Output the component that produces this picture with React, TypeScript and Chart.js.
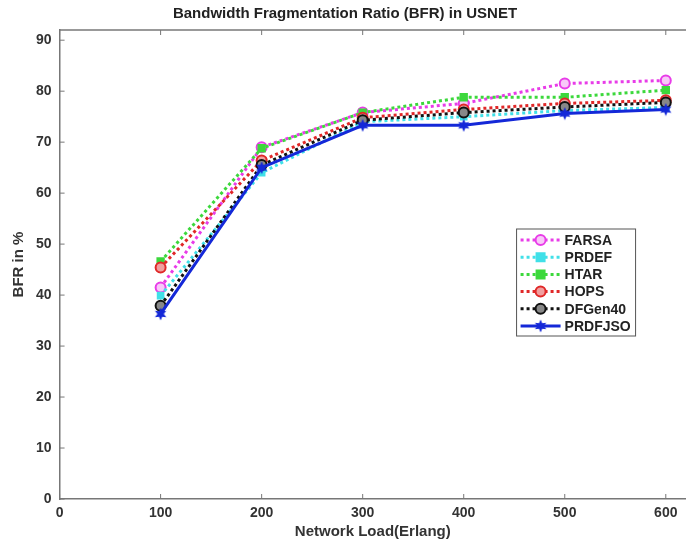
import React, { useEffect, useRef } from "react";
import { Chart, registerables } from "chart.js";

Chart.register(...registerables);

const loads = [100, 200, 300, 400, 500, 600];
const farsa = [41.5, 69.0, 75.8, 77.6, 81.5, 82.1];
const prdef = [39.9, 64.0, 74.0, 75.0, 76.2, 76.8];
const htar = [46.6, 68.8, 75.8, 78.8, 78.8, 80.2];
const hops = [45.4, 66.4, 74.8, 76.4, 77.6, 78.2];
const dfgen40 = [37.9, 65.5, 74.3, 75.8, 76.9, 77.8];
const prdfjso = [36.3, 65.0, 73.3, 73.3, 75.6, 76.4];
const seriesNames = ["FARSA", "PRDEF", "HTAR", "HOPS", "DFGen40", "PRDFJSO"];
const xTicks = [0, 100, 200, 300, 400, 500, 600];
const yTicks = [0, 10, 20, 30, 40, 50, 60, 70, 80, 90];

function makeStar(color: string, size: number) {
  const c = document.createElement("canvas");
  c.width = size;
  c.height = size;
  const g = c.getContext("2d")!;
  const cx = size / 2, cy = size / 2;
  const ro = size / 2 - 0.5, ri = ro * 0.5;
  g.beginPath();
  for (let i = 0; i < 12; i++) {
    const r = i % 2 === 0 ? ro : ri;
    const a = -Math.PI / 2 + (i * Math.PI) / 6;
    const px = cx + r * Math.cos(a), py = cy + r * Math.sin(a);
    if (i === 0) g.moveTo(px, py); else g.lineTo(px, py);
  }
  g.closePath();
  g.fillStyle = color;
  g.fill();
  return c;
}

export default function App() {
  const ref = useRef<HTMLCanvasElement>(null);
  useEffect(() => {
    document.body.style.margin = "0";
    const star = makeStar("#1428d8", 14);
    const styles = [
      { color: "#e83ce8", dash: [3, 3], point: "circle", r: 5, bg: "#f8c8f8" },
      { color: "#40e0e8", dash: [3, 3], point: "rect", r: 4, bg: "#40e0e8" },
      { color: "#3cd83c", dash: [3, 3], point: "rect", r: 4.5, bg: "#3cd83c" },
      { color: "#e02828", dash: [3, 3], point: "circle", r: 5, bg: "#f0a0a0" },
      { color: "#111111", dash: [3, 3], point: "circle", r: 5, bg: "#888888" },
      { color: "#1428d8", dash: [], point: star as any, r: 7, bg: "#1428d8" },
    ];
    const values = [farsa, prdef, htar, hops, dfgen40, prdfjso];
    const datasets = values.map((v, i) => ({
      label: seriesNames[i],
      data: v.map((y, j) => ({ x: loads[j], y })),
      borderColor: styles[i].color,
      backgroundColor: styles[i].bg,
      borderDash: styles[i].dash,
      borderWidth: 3,
      pointStyle: styles[i].point,
      pointRadius: styles[i].r,
      pointBorderWidth: 2,
      pointBorderColor: styles[i].color,
      pointBackgroundColor: styles[i].bg,
      tension: 0,
      order: values.length - i,
    }));

    const frame = {
      id: "frame",
      afterDraw(chart: any) {
        const { ctx, chartArea, scales } = chart;
        ctx.save();
        ctx.strokeStyle = "#777";
        ctx.lineWidth = 1.5;
        ctx.beginPath();
        ctx.moveTo(chartArea.left, chartArea.top);
        ctx.lineTo(chart.width, chartArea.top);
        ctx.stroke();
        ctx.lineWidth = 1;
        ctx.beginPath();
        xTicks.forEach((t) => {
          const x = scales.x.getPixelForValue(t);
          ctx.moveTo(x, chartArea.bottom);
          ctx.lineTo(x, chartArea.bottom - 5);
          ctx.moveTo(x, chartArea.top);
          ctx.lineTo(x, chartArea.top + 5);
        });
        yTicks.forEach((t) => {
          const y = scales.y.getPixelForValue(t);
          ctx.moveTo(chartArea.left, y);
          ctx.lineTo(chartArea.left + 5, y);
        });
        ctx.stroke();

        // legend box
        const bx = chartArea.left + 457, by = chartArea.top + 199;
        const bw = 119, bh = 107;
        ctx.fillStyle = "#fff";
        ctx.fillRect(bx, by, bw, bh);
        ctx.strokeStyle = "#555";
        ctx.lineWidth = 1;
        ctx.strokeRect(bx, by, bw, bh);
        ctx.font = "bold 14px 'Liberation Sans', Arial, sans-serif";
        ctx.textBaseline = "middle";
        chart.data.datasets.forEach((ds: any, i: number) => {
          const y = by + 11 + i * 17.2;
          ctx.save();
          ctx.strokeStyle = ds.borderColor;
          ctx.lineWidth = 3;
          ctx.setLineDash(ds.borderDash);
          ctx.beginPath();
          ctx.moveTo(bx + 4, y);
          ctx.lineTo(bx + 44, y);
          ctx.stroke();
          ctx.restore();
          const ps = ds.pointStyle;
          if (typeof ps === "string") {
            ctx.save();
            ctx.strokeStyle = ds.pointBorderColor;
            ctx.fillStyle = ds.pointBackgroundColor;
            ctx.lineWidth = 2;
            ctx.beginPath();
            if (ps === "circle") ctx.arc(bx + 24, y, 5, 0, Math.PI * 2);
            else ctx.rect(bx + 20, y - 4, 8, 8);
            ctx.fill();
            ctx.stroke();
            ctx.restore();
          } else {
            ctx.drawImage(ps, bx + 24 - 7, y - 7);
          }
          ctx.fillStyle = "#222";
          ctx.textAlign = "left";
          ctx.fillText(ds.label, bx + 48, y + 1);
        });
        ctx.restore();
      },
    };

    const font = { family: "'Liberation Sans', Arial, sans-serif", weight: "bold" as const };
    const chart = new Chart(ref.current!, {
      type: "line",
      data: { datasets: datasets as any },
      options: {
        animation: false,
        responsive: false,
        layout: { autoPadding: false, padding: { left: 4, right: 0, top: 0, bottom: 0 } },
        plugins: {
          legend: { display: false },
          tooltip: { enabled: false },
          title: {
            display: true,
            text: "Bandwidth Fragmentation Ratio (BFR) in USNET",
            color: "#222",
            font: { ...font, size: 15 },
            padding: { top: 5, bottom: 7 },
          },
        },
        scales: {
          x: {
            type: "linear",
            min: 0,
            max: 620,
            afterBuildTicks: (s: any) => {
              s.ticks = xTicks.map((v) => ({ value: v }));
            },
            afterFit: (s: any) => {
              s.paddingLeft = 0;
              s.paddingRight = 0;
              s.height = 47;
            },
            ticks: { color: "#333", font: { ...font, size: 14 }, padding: 6, maxRotation: 0 },
            grid: { drawOnChartArea: false, drawTicks: false },
            border: { display: true, color: "#777", width: 1.5 },
            title: {
              display: true,
              text: "Network Load(Erlang)",
              color: "#333",
              font: { ...font, size: 15 },
              padding: { top: 0, bottom: 5 },
            },
          },
          y: {
            min: 0,
            max: 92,
            afterBuildTicks: (s: any) => {
              s.ticks = yTicks.map((v) => ({ value: v }));
            },
            afterFit: (s: any) => {
              s.paddingTop = 0;
              s.paddingBottom = 0;
            },
            ticks: { color: "#333", font: { ...font, size: 14 }, padding: 8 },
            grid: { drawOnChartArea: false, drawTicks: false },
            border: { display: true, color: "#777", width: 1.5 },
            title: {
              display: true,
              text: "BFR in %",
              color: "#333",
              font: { ...font, size: 15 },
              padding: { top: 6, bottom: 0 },
            },
          },
        },
      },
      plugins: [frame],
    });
    return () => chart.destroy();
  }, []);
  return (
    <div style={{ width: 686, height: 546 }}>
      <canvas ref={ref} width={686} height={546} style={{ display: "block" }} />
    </div>
  );
}
